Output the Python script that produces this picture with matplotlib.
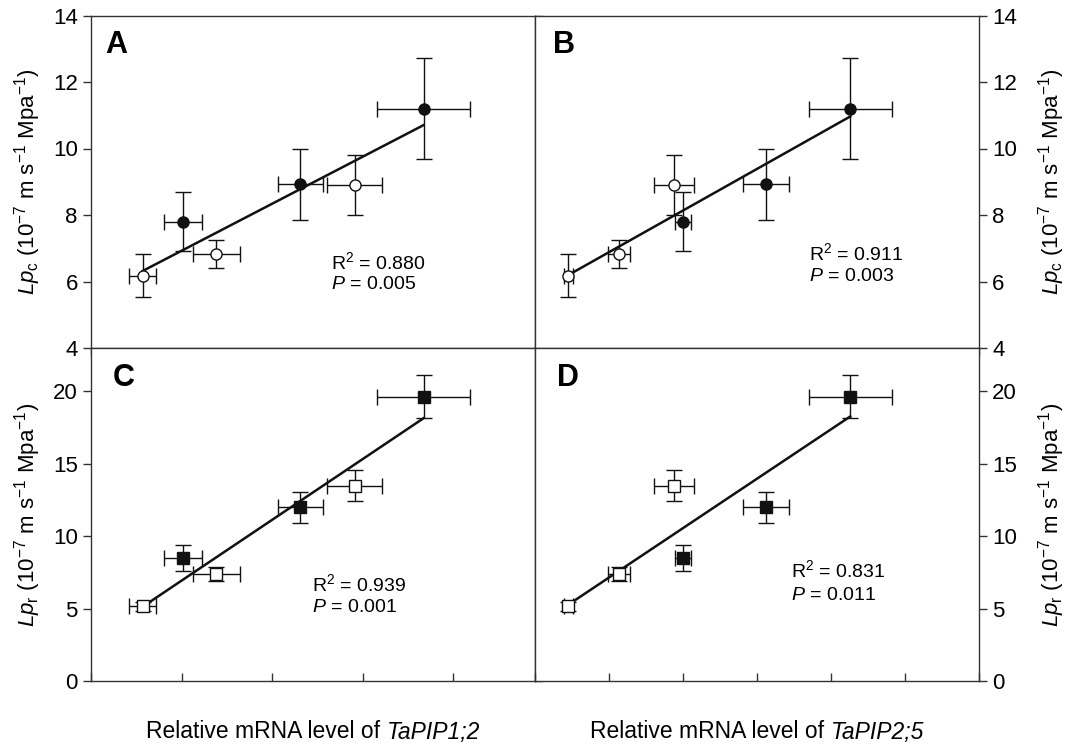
import matplotlib
matplotlib.use("Agg")
import matplotlib.pyplot as plt
import numpy as np

plt.rcParams["font.family"] = ["Liberation Sans", "DejaVu Sans"]
plt.rcParams["mathtext.fontset"] = "custom"
plt.rcParams["mathtext.rm"] = "Liberation Sans"
plt.rcParams["mathtext.it"] = "Liberation Sans:italic"
plt.rcParams["mathtext.bf"] = "Liberation Sans:bold"

# relative mRNA levels (x), open = one group, filled = the other
pip12_open_x = [0.57, 1.385, 2.91]
pip12_open_xerr = [0.15, 0.26, 0.30]
pip12_fill_x = [1.02, 2.31, 3.67]
pip12_fill_xerr = [0.21, 0.25, 0.51]

pip25_open_x = [0.45, 1.14, 1.88]
pip25_open_xerr = [0.063, 0.15, 0.27]
pip25_fill_x = [2.00, 3.12, 4.26]
pip25_fill_xerr = [0.105, 0.31, 0.56]

# hydraulic conductivities
lpc_open = [6.17, 6.84, 8.9]
lpc_open_err = [0.65, 0.42, 0.9]
lpc_fill = [7.8, 8.92, 11.19]
lpc_fill_err = [0.89, 1.08, 1.52]

lpr_open = [5.15, 7.39, 13.5]
lpr_open_err = [0.3, 0.45, 1.08]
lpr_fill = [8.5, 12.0, 19.65]
lpr_fill_err = [0.87, 1.08, 1.5]

# regression lines (slope, intercept) for panels A-D
fit_slope = [1.415, 1.252, 4.20, 3.412]
fit_intercept = [5.51, 5.63, 2.735, 3.735]
r2_text = ["0.880", "0.911", "0.939", "0.831"]
p_text = ["0.005", "0.003", "0.001", "0.011"]
panel_letters = ["A", "B", "C", "D"]
gene_names = ["TaPIP1;2", "TaPIP2;5"]

W, H = 1066, 746
fig = plt.figure(figsize=(W / 100, H / 100), dpi=100)

x0, xm, x1 = 91, 535, 979
y0, ym, y1 = 15.5, 348, 681


def box(l, t, r, b):
    return [l / W, 1 - b / H, (r - l) / W, (b - t) / H]


axA = fig.add_axes(box(x0, y0, xm, ym))
axB = fig.add_axes(box(xm, y0, x1, ym))
axC = fig.add_axes(box(x0, ym, xm, y1))
axD = fig.add_axes(box(xm, ym, x1, y1))

lpc_label = r"$Lp_\mathrm{c}$ (10$^{-7}$ m s$^{-1}$ Mpa$^{-1}$)"
lpr_label = r"$Lp_\mathrm{r}$ (10$^{-7}$ m s$^{-1}$ Mpa$^{-1}$)"

panels = [
    (axA, pip12_open_x, pip12_open_xerr, pip12_fill_x, pip12_fill_xerr,
     lpc_open, lpc_open_err, lpc_fill, lpc_fill_err, "o"),
    (axB, pip25_open_x, pip25_open_xerr, pip25_fill_x, pip25_fill_xerr,
     lpc_open, lpc_open_err, lpc_fill, lpc_fill_err, "o"),
    (axC, pip12_open_x, pip12_open_xerr, pip12_fill_x, pip12_fill_xerr,
     lpr_open, lpr_open_err, lpr_fill, lpr_fill_err, "s"),
    (axD, pip25_open_x, pip25_open_xerr, pip25_fill_x, pip25_fill_xerr,
     lpr_open, lpr_open_err, lpr_fill, lpr_fill_err, "s"),
]

letter_pos = [(0.032, 0.955), (0.04, 0.955), (0.05, 0.955), (0.05, 0.955)]
r2_pos = [(0.54, 0.259), (0.617, 0.286), (0.498, 0.291), (0.577, 0.333)]
p_pos = [(0.54, 0.19), (0.617, 0.214), (0.498, 0.222), (0.577, 0.258)]

for i, (ax, ox, oxe, fx, fxe, oy, oye, fy, fye, mk) in enumerate(panels):
    ms = 8.0 if mk == "o" else 8.5
    # regression line
    allx = np.array(ox + fx)
    xs = np.array([allx.min(), allx.max()])
    ax.plot(xs, fit_slope[i] * xs + fit_intercept[i], color="#111111",
            lw=1.8, zorder=2)
    ax.errorbar(fx, fy, xerr=fxe, yerr=fye, fmt=mk, ms=ms, mfc="#111111",
                mec="#111111", ecolor="#111111", elinewidth=1.0, capsize=5.5,
                capthick=1.0, zorder=3)
    ax.errorbar(ox, oy, xerr=oxe, yerr=oye, fmt=mk, ms=ms, mfc="white",
                mec="#111111", mew=1.0, ecolor="#111111", elinewidth=1.0,
                capsize=5.5, capthick=1.0, zorder=3)

    ax.text(*letter_pos[i], panel_letters[i], transform=ax.transAxes,
            fontsize=22, fontweight="bold", va="top", ha="left")
    ax.text(*r2_pos[i], "R$^2$ = " + r2_text[i], transform=ax.transAxes,
            fontsize=14, va="center", ha="left")
    ax.text(*p_pos[i], "$P$ = " + p_text[i], transform=ax.transAxes,
            fontsize=14, va="center", ha="left")

    for s in ax.spines.values():
        s.set_color("#333333")
        s.set_linewidth(1.0)

# x scales
for ax in (axA, axC):
    ax.set_xlim(0, 4.9)
    ax.set_xticks([0, 1, 2, 3, 4])
for ax in (axB, axD):
    ax.set_xlim(0, 6)
    ax.set_xticks([0, 1, 2, 3, 4, 5, 6])

# y scales
for ax in (axA, axB):
    ax.set_ylim(4, 14)
    ax.set_yticks([4, 6, 8, 10, 12, 14])
for ax in (axC, axD):
    ax.set_ylim(0, 23)
    ax.set_yticks([0, 5, 10, 15, 20])

tk = dict(length=5.5, width=1.0, color="#333333", labelsize=16, pad=4)

# top row: bottom ticks point down into the lower row
for ax in (axA, axB):
    ax.tick_params(axis="x", direction="out", bottom=True, top=False,
                   labelbottom=False, **tk)
# bottom row: bottom ticks point inward
for ax in (axC, axD):
    ax.tick_params(axis="x", direction="in", bottom=True, top=False,
                   labelbottom=False, **tk)
# left column: ticks on both sides pointing out (right ones go into B / D)
for ax, lab in ((axA, lpc_label), (axC, lpr_label)):
    ax.tick_params(axis="y", direction="out", left=True, right=True,
                   labelleft=True, labelright=False, **tk)
    ax.set_ylabel(lab, fontsize=16)
    ax.yaxis.set_label_coords(-0.108, 0.5)
# right column: ticks and labels on the right
for ax, lab in ((axB, lpc_label), (axD, lpr_label)):
    ax.tick_params(axis="y", direction="out", left=False, right=True,
                   labelleft=False, labelright=True, **tk)
    ax.yaxis.set_label_position("right")
    ax.set_ylabel(lab, fontsize=16, rotation=90)
    ax.yaxis.set_label_coords(1.128, 0.5)

# x labels: roman text followed by italic gene name
fig.canvas.draw()
renderer = fig.canvas.get_renderer()
for (l, r), gene in zip(((x0, xm), (xm, x1)), gene_names):
    t1 = fig.text(0, 1 - 732 / H, "Relative mRNA level of ", ha="left",
                  va="center", fontsize=16.5)
    t2 = fig.text(0, 1 - 732 / H, gene, ha="left", va="center",
                  fontsize=16.5, style="italic")
    w1 = t1.get_window_extent(renderer).width
    w2 = t2.get_window_extent(renderer).width
    start = (l + r) / 2 - (w1 + w2) / 2
    t1.set_x(start / W)
    t2.set_x((start + w1) / W)

fig.savefig("out.png", dpi=100)
